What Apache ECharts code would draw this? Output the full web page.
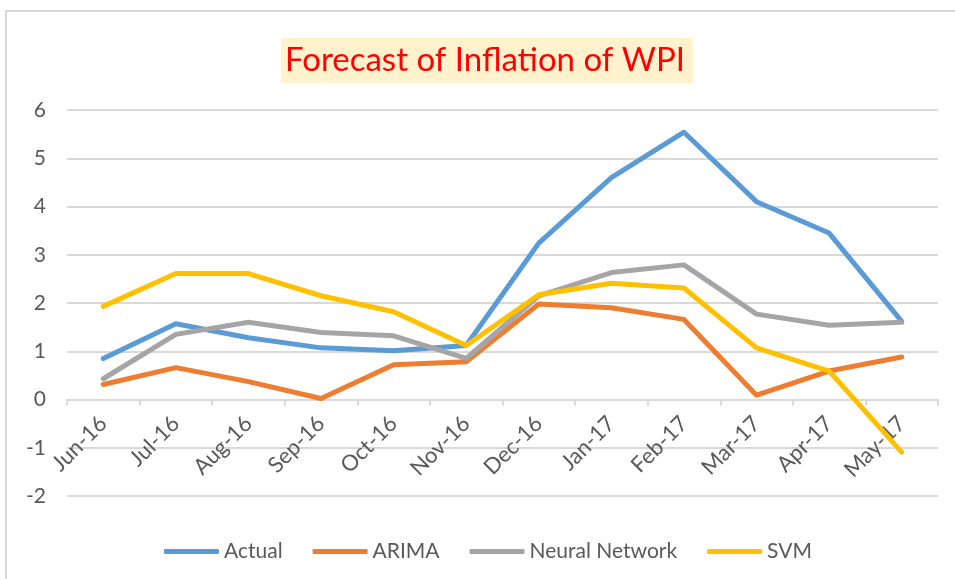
<!DOCTYPE html>
<html>
<head>
<meta charset="utf-8">
<script src="https://cdn.jsdelivr.net/npm/echarts@6/dist/echarts.min.js"></script>
<style>
  html, body { margin: 0; padding: 0; background: #fff; }
  #frame { position: absolute; left: 5px; top: 10px; width: 955px; height: 575px; border: 2px solid #d9d9d9; box-sizing: border-box; }
  #chart { position: absolute; left: 0; top: 0; width: 955px; height: 579px; }
</style>
</head>
<body>
<div id="frame"></div>
<div id="chart"></div>
<script>
// months on the x axis
var months = ['Jun-16', 'Jul-16', 'Aug-16', 'Sep-16', 'Oct-16', 'Nov-16',
  'Dec-16', 'Jan-17', 'Feb-17', 'Mar-17', 'Apr-17', 'May-17'];

// values
var actual = [0.85, 1.57, 1.28, 1.07, 1.01, 1.12, 3.24, 4.6, 5.54, 4.1, 3.45, 1.62];
var arima = [0.31, 0.66, 0.37, 0.02, 0.72, 0.78, 1.98, 1.9, 1.66, 0.09, 0.59, 0.88];
var neural = [0.43, 1.35, 1.6, 1.39, 1.32, 0.85, 2.15, 2.63, 2.79, 1.77, 1.54, 1.6];
var svm = [1.93, 2.61, 2.61, 2.15, 1.82, 1.12, 2.17, 2.41, 2.31, 1.07, 0.59, -1.09];

var font = 'Lato';
var myChart = echarts.init(document.getElementById('chart'), null, { renderer: 'canvas' });

function line(name, data, color) {
  return {
    name: name,
    type: 'line',
    data: data,
    symbol: 'none',
    lineStyle: { width: 5, color: color, cap: 'round', join: 'round' },
    itemStyle: { color: color },
    emphasis: { disabled: true }
  };
}

myChart.setOption({
  animation: false,
  title: {
    text: 'Forecast of Inflation of WPI',
    left: 281,
    top: 38,
    padding: [6, 8, 6, 4],
    backgroundColor: '#FFF2CC',
    textStyle: { color: '#FF0000', fontFamily: font, fontSize: 33, fontWeight: 'normal' }
  },
  legend: {
    bottom: 12,
    left: 159,
    itemWidth: 55,
    itemHeight: 5,
    itemGap: 30,
    icon: 'roundRect',
    textStyle: { color: '#595959', fontFamily: font, fontSize: 21 },
    data: ['Actual', 'ARIMA', 'Neural Network', 'SVM']
  },
  grid: { left: 67, right: 17, top: 110, bottom: 83, containLabel: false },
  xAxis: {
    type: 'category',
    data: months,
    boundaryGap: true,
    axisLine: { onZero: true, lineStyle: { color: '#d9d9d9', width: 2 } },
    axisTick: { show: true, length: 6, lineStyle: { color: '#d9d9d9', width: 2 } },
    axisLabel: { rotate: 45, color: '#595959', fontFamily: font, fontSize: 22, margin: -76, interval: 0 }
  },
  yAxis: {
    type: 'value',
    min: -2,
    max: 6,
    interval: 1,
    axisLine: { show: false },
    axisTick: { show: false },
    splitLine: { lineStyle: { color: '#d9d9d9', width: 2 } },
    axisLabel: { color: '#595959', fontFamily: font, fontSize: 21, margin: 21 }
  },
  series: [
    line('Actual', actual, '#5B9BD5'),
    line('ARIMA', arima, '#ED7D31'),
    line('Neural Network', neural, '#A5A5A5'),
    line('SVM', svm, '#FFC000')
  ]
});
</script>
</body>
</html>
